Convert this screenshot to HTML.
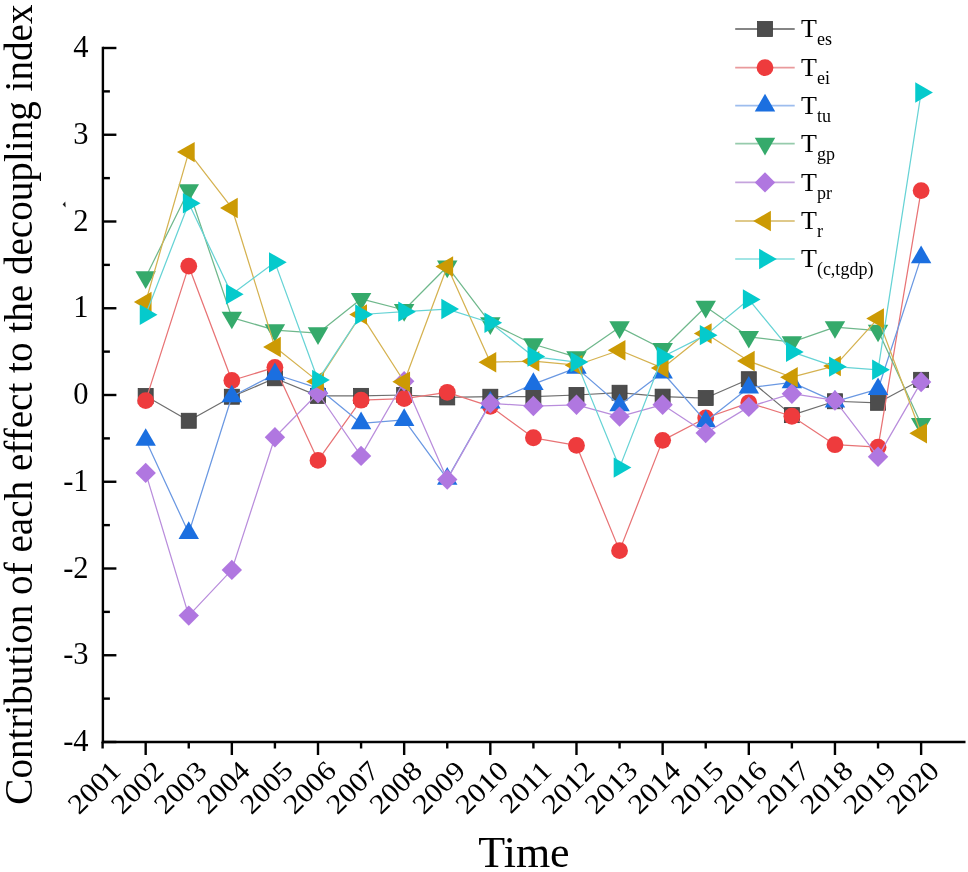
<!DOCTYPE html>
<html><head><meta charset="utf-8"><title>Chart</title>
<style>
text{filter:grayscale(1);font-family:"Liberation Serif",serif;}
html,body{margin:0;padding:0;background:#fff;width:968px;height:872px;overflow:hidden;font-family:"Liberation Serif",serif;}
</style></head>
<body>
<svg width="968" height="872" viewBox="0 0 968 872" style="display:block">
<rect width="968" height="872" fill="#fff"/>
<g stroke="#000" stroke-width="2.4" fill="none" stroke-linecap="butt">
<line x1="102.9" y1="46.8" x2="102.9" y2="743.2"/>
<line x1="101.7" y1="742.0" x2="965.5" y2="742.0"/>
<line x1="102.9" y1="742.00" x2="116.4" y2="742.00"/>
<line x1="102.9" y1="698.62" x2="109.9" y2="698.62"/>
<line x1="102.9" y1="655.25" x2="116.4" y2="655.25"/>
<line x1="102.9" y1="611.88" x2="109.9" y2="611.88"/>
<line x1="102.9" y1="568.50" x2="116.4" y2="568.50"/>
<line x1="102.9" y1="525.12" x2="109.9" y2="525.12"/>
<line x1="102.9" y1="481.75" x2="116.4" y2="481.75"/>
<line x1="102.9" y1="438.38" x2="109.9" y2="438.38"/>
<line x1="102.9" y1="395.00" x2="116.4" y2="395.00"/>
<line x1="102.9" y1="351.62" x2="109.9" y2="351.62"/>
<line x1="102.9" y1="308.25" x2="116.4" y2="308.25"/>
<line x1="102.9" y1="264.88" x2="109.9" y2="264.88"/>
<line x1="102.9" y1="221.50" x2="116.4" y2="221.50"/>
<line x1="102.9" y1="178.12" x2="109.9" y2="178.12"/>
<line x1="102.9" y1="134.75" x2="116.4" y2="134.75"/>
<line x1="102.9" y1="91.38" x2="109.9" y2="91.38"/>
<line x1="102.9" y1="48.00" x2="116.4" y2="48.00"/>
<line x1="102.60" y1="742.0" x2="102.60" y2="748.5"/>
<line x1="145.68" y1="742.0" x2="145.68" y2="755.0"/>
<line x1="188.76" y1="742.0" x2="188.76" y2="748.5"/>
<line x1="231.84" y1="742.0" x2="231.84" y2="755.0"/>
<line x1="274.92" y1="742.0" x2="274.92" y2="748.5"/>
<line x1="318.00" y1="742.0" x2="318.00" y2="755.0"/>
<line x1="361.08" y1="742.0" x2="361.08" y2="748.5"/>
<line x1="404.16" y1="742.0" x2="404.16" y2="755.0"/>
<line x1="447.24" y1="742.0" x2="447.24" y2="748.5"/>
<line x1="490.32" y1="742.0" x2="490.32" y2="755.0"/>
<line x1="533.40" y1="742.0" x2="533.40" y2="748.5"/>
<line x1="576.48" y1="742.0" x2="576.48" y2="755.0"/>
<line x1="619.56" y1="742.0" x2="619.56" y2="748.5"/>
<line x1="662.64" y1="742.0" x2="662.64" y2="755.0"/>
<line x1="705.72" y1="742.0" x2="705.72" y2="748.5"/>
<line x1="748.80" y1="742.0" x2="748.80" y2="755.0"/>
<line x1="791.88" y1="742.0" x2="791.88" y2="748.5"/>
<line x1="834.96" y1="742.0" x2="834.96" y2="755.0"/>
<line x1="878.04" y1="742.0" x2="878.04" y2="748.5"/>
<line x1="921.12" y1="742.0" x2="921.12" y2="755.0"/>
</g>
<g font-family="Liberation Serif" font-size="30.5" fill="#000" text-anchor="end">
<text x="88.6" y="751.20">-4</text>
<text x="88.6" y="664.45">-3</text>
<text x="88.6" y="577.70">-2</text>
<text x="88.6" y="490.95">-1</text>
<text x="88.6" y="404.20">0</text>
<text x="88.6" y="317.45">1</text>
<text x="88.6" y="230.70">2</text>
<text x="88.6" y="143.95">3</text>
<text x="88.6" y="57.20">4</text>
</g>
<g font-family="Liberation Serif" font-size="28.8" fill="#000" text-anchor="end">
<text transform="translate(116.10,766.2) rotate(-45) scale(1.06,0.97)" x="0" y="9">2001</text>
<text transform="translate(159.18,766.2) rotate(-45) scale(1.06,0.97)" x="0" y="9">2002</text>
<text transform="translate(202.26,766.2) rotate(-45) scale(1.06,0.97)" x="0" y="9">2003</text>
<text transform="translate(245.34,766.2) rotate(-45) scale(1.06,0.97)" x="0" y="9">2004</text>
<text transform="translate(288.42,766.2) rotate(-45) scale(1.06,0.97)" x="0" y="9">2005</text>
<text transform="translate(331.50,766.2) rotate(-45) scale(1.06,0.97)" x="0" y="9">2006</text>
<text transform="translate(374.58,766.2) rotate(-45) scale(1.06,0.97)" x="0" y="9">2007</text>
<text transform="translate(417.66,766.2) rotate(-45) scale(1.06,0.97)" x="0" y="9">2008</text>
<text transform="translate(460.74,766.2) rotate(-45) scale(1.06,0.97)" x="0" y="9">2009</text>
<text transform="translate(503.82,766.2) rotate(-45) scale(1.06,0.97)" x="0" y="9">2010</text>
<text transform="translate(546.90,766.2) rotate(-45) scale(1.06,0.97)" x="0" y="9">2011</text>
<text transform="translate(589.98,766.2) rotate(-45) scale(1.06,0.97)" x="0" y="9">2012</text>
<text transform="translate(633.06,766.2) rotate(-45) scale(1.06,0.97)" x="0" y="9">2013</text>
<text transform="translate(676.14,766.2) rotate(-45) scale(1.06,0.97)" x="0" y="9">2014</text>
<text transform="translate(719.22,766.2) rotate(-45) scale(1.06,0.97)" x="0" y="9">2015</text>
<text transform="translate(762.30,766.2) rotate(-45) scale(1.06,0.97)" x="0" y="9">2016</text>
<text transform="translate(805.38,766.2) rotate(-45) scale(1.06,0.97)" x="0" y="9">2017</text>
<text transform="translate(848.46,766.2) rotate(-45) scale(1.06,0.97)" x="0" y="9">2018</text>
<text transform="translate(891.54,766.2) rotate(-45) scale(1.06,0.97)" x="0" y="9">2019</text>
<text transform="translate(934.62,766.2) rotate(-45) scale(1.06,0.97)" x="0" y="9">2020</text>
</g>
<text font-family="Liberation Serif" font-size="44" x="524" y="867" text-anchor="middle" fill="#000">Time</text>
<text font-family="Liberation Serif" font-size="40" transform="translate(32.0,404.6) rotate(-90) scale(0.9787,1.02)" text-anchor="middle" fill="#000">Contribution of each effect to the decoupling index</text>
<polygon points="62.6,204.6 65.3,201.4 65.7,207.4" fill="#1a1a1a"/>
<polyline points="145.68,396.04 188.76,420.76 231.84,396.74 274.92,378.26 318.00,395.87 361.08,395.87 404.16,395.00 447.24,397.43 490.32,396.74 533.40,396.74 576.48,395.00 619.56,392.74 662.64,396.65 705.72,398.04 748.80,379.21 791.88,415.13 834.96,401.25 878.04,402.81 921.12,379.82" fill="none" stroke="#6e6e6e" stroke-width="1.25" stroke-linejoin="round"/>
<rect x="138.18" y="388.54" width="15.00" height="15.00" fill="#4d4d4d" stroke="#3c3c3c" stroke-width="0.8"/>
<rect x="181.26" y="413.26" width="15.00" height="15.00" fill="#4d4d4d" stroke="#3c3c3c" stroke-width="0.8"/>
<rect x="224.34" y="389.24" width="15.00" height="15.00" fill="#4d4d4d" stroke="#3c3c3c" stroke-width="0.8"/>
<rect x="267.42" y="370.76" width="15.00" height="15.00" fill="#4d4d4d" stroke="#3c3c3c" stroke-width="0.8"/>
<rect x="310.50" y="388.37" width="15.00" height="15.00" fill="#4d4d4d" stroke="#3c3c3c" stroke-width="0.8"/>
<rect x="353.58" y="388.37" width="15.00" height="15.00" fill="#4d4d4d" stroke="#3c3c3c" stroke-width="0.8"/>
<rect x="396.66" y="387.50" width="15.00" height="15.00" fill="#4d4d4d" stroke="#3c3c3c" stroke-width="0.8"/>
<rect x="439.74" y="389.93" width="15.00" height="15.00" fill="#4d4d4d" stroke="#3c3c3c" stroke-width="0.8"/>
<rect x="482.82" y="389.24" width="15.00" height="15.00" fill="#4d4d4d" stroke="#3c3c3c" stroke-width="0.8"/>
<rect x="525.90" y="389.24" width="15.00" height="15.00" fill="#4d4d4d" stroke="#3c3c3c" stroke-width="0.8"/>
<rect x="568.98" y="387.50" width="15.00" height="15.00" fill="#4d4d4d" stroke="#3c3c3c" stroke-width="0.8"/>
<rect x="612.06" y="385.24" width="15.00" height="15.00" fill="#4d4d4d" stroke="#3c3c3c" stroke-width="0.8"/>
<rect x="655.14" y="389.15" width="15.00" height="15.00" fill="#4d4d4d" stroke="#3c3c3c" stroke-width="0.8"/>
<rect x="698.22" y="390.54" width="15.00" height="15.00" fill="#4d4d4d" stroke="#3c3c3c" stroke-width="0.8"/>
<rect x="741.30" y="371.71" width="15.00" height="15.00" fill="#4d4d4d" stroke="#3c3c3c" stroke-width="0.8"/>
<rect x="784.38" y="407.63" width="15.00" height="15.00" fill="#4d4d4d" stroke="#3c3c3c" stroke-width="0.8"/>
<rect x="827.46" y="393.75" width="15.00" height="15.00" fill="#4d4d4d" stroke="#3c3c3c" stroke-width="0.8"/>
<rect x="870.54" y="395.31" width="15.00" height="15.00" fill="#4d4d4d" stroke="#3c3c3c" stroke-width="0.8"/>
<rect x="913.62" y="372.32" width="15.00" height="15.00" fill="#4d4d4d" stroke="#3c3c3c" stroke-width="0.8"/>
<polyline points="145.68,400.64 188.76,266.18 231.84,380.51 274.92,367.33 318.00,460.41 361.08,400.20 404.16,398.56 447.24,392.31 490.32,406.36 533.40,437.77 576.48,445.40 619.56,550.63 662.64,440.37 705.72,417.99 748.80,402.81 791.88,416.25 834.96,444.71 878.04,447.22 921.12,190.62" fill="none" stroke="#e87375" stroke-width="1.25" stroke-linejoin="round"/>
<circle cx="145.68" cy="400.64" r="8.4" fill="#ee3b3d"/>
<circle cx="188.76" cy="266.18" r="8.4" fill="#ee3b3d"/>
<circle cx="231.84" cy="380.51" r="8.4" fill="#ee3b3d"/>
<circle cx="274.92" cy="367.33" r="8.4" fill="#ee3b3d"/>
<circle cx="318.00" cy="460.41" r="8.4" fill="#ee3b3d"/>
<circle cx="361.08" cy="400.20" r="8.4" fill="#ee3b3d"/>
<circle cx="404.16" cy="398.56" r="8.4" fill="#ee3b3d"/>
<circle cx="447.24" cy="392.31" r="8.4" fill="#ee3b3d"/>
<circle cx="490.32" cy="406.36" r="8.4" fill="#ee3b3d"/>
<circle cx="533.40" cy="437.77" r="8.4" fill="#ee3b3d"/>
<circle cx="576.48" cy="445.40" r="8.4" fill="#ee3b3d"/>
<circle cx="619.56" cy="550.63" r="8.4" fill="#ee3b3d"/>
<circle cx="662.64" cy="440.37" r="8.4" fill="#ee3b3d"/>
<circle cx="705.72" cy="417.99" r="8.4" fill="#ee3b3d"/>
<circle cx="748.80" cy="402.81" r="8.4" fill="#ee3b3d"/>
<circle cx="791.88" cy="416.25" r="8.4" fill="#ee3b3d"/>
<circle cx="834.96" cy="444.71" r="8.4" fill="#ee3b3d"/>
<circle cx="878.04" cy="447.22" r="8.4" fill="#ee3b3d"/>
<circle cx="921.12" cy="190.62" r="8.4" fill="#ee3b3d"/>
<polyline points="145.68,439.94 188.76,533.11 231.84,396.47 274.92,374.27 318.00,388.06 361.08,423.28 404.16,419.98 447.24,478.89 490.32,402.72 533.40,384.16 576.48,367.85 619.56,405.32 662.64,372.53 705.72,421.46 748.80,387.71 791.88,382.42 834.96,401.68 878.04,389.19 921.12,257.33" fill="none" stroke="#6a98e2" stroke-width="1.25" stroke-linejoin="round"/>
<polygon points="145.68,428.14 155.90,445.84 135.46,445.84" fill="#1b6fe0"/>
<polygon points="188.76,521.31 198.98,539.01 178.54,539.01" fill="#1b6fe0"/>
<polygon points="231.84,384.67 242.06,402.37 221.62,402.37" fill="#1b6fe0"/>
<polygon points="274.92,362.47 285.14,380.17 264.70,380.17" fill="#1b6fe0"/>
<polygon points="318.00,376.26 328.22,393.96 307.78,393.96" fill="#1b6fe0"/>
<polygon points="361.08,411.48 371.30,429.18 350.86,429.18" fill="#1b6fe0"/>
<polygon points="404.16,408.18 414.38,425.88 393.94,425.88" fill="#1b6fe0"/>
<polygon points="447.24,467.09 457.46,484.79 437.02,484.79" fill="#1b6fe0"/>
<polygon points="490.32,390.92 500.54,408.62 480.10,408.62" fill="#1b6fe0"/>
<polygon points="533.40,372.36 543.62,390.06 523.18,390.06" fill="#1b6fe0"/>
<polygon points="576.48,356.05 586.70,373.75 566.26,373.75" fill="#1b6fe0"/>
<polygon points="619.56,393.52 629.78,411.22 609.34,411.22" fill="#1b6fe0"/>
<polygon points="662.64,360.73 672.86,378.43 652.42,378.43" fill="#1b6fe0"/>
<polygon points="705.72,409.66 715.94,427.36 695.50,427.36" fill="#1b6fe0"/>
<polygon points="748.80,375.91 759.02,393.61 738.58,393.61" fill="#1b6fe0"/>
<polygon points="791.88,370.62 802.10,388.32 781.66,388.32" fill="#1b6fe0"/>
<polygon points="834.96,389.88 845.18,407.58 824.74,407.58" fill="#1b6fe0"/>
<polygon points="878.04,377.39 888.26,395.09 867.82,395.09" fill="#1b6fe0"/>
<polygon points="921.12,245.53 931.34,263.23 910.90,263.23" fill="#1b6fe0"/>
<polyline points="145.68,277.19 188.76,190.27 231.84,317.53 274.92,330.11 318.00,333.23 361.08,298.97 404.16,309.99 447.24,266.44 490.32,323.17 533.40,344.25 576.48,357.09 619.56,327.16 662.64,348.94 705.72,306.69 748.80,336.79 791.88,342.08 834.96,327.07 878.04,330.54 921.12,423.89" fill="none" stroke="#6fb88c" stroke-width="1.25" stroke-linejoin="round"/>
<polygon points="145.68,288.99 155.90,271.29 135.46,271.29" fill="#35aa6b"/>
<polygon points="188.76,202.07 198.98,184.37 178.54,184.37" fill="#35aa6b"/>
<polygon points="231.84,329.33 242.06,311.63 221.62,311.63" fill="#35aa6b"/>
<polygon points="274.92,341.91 285.14,324.21 264.70,324.21" fill="#35aa6b"/>
<polygon points="318.00,345.03 328.22,327.33 307.78,327.33" fill="#35aa6b"/>
<polygon points="361.08,310.77 371.30,293.07 350.86,293.07" fill="#35aa6b"/>
<polygon points="404.16,321.79 414.38,304.09 393.94,304.09" fill="#35aa6b"/>
<polygon points="447.24,278.24 457.46,260.54 437.02,260.54" fill="#35aa6b"/>
<polygon points="490.32,334.97 500.54,317.27 480.10,317.27" fill="#35aa6b"/>
<polygon points="533.40,356.05 543.62,338.35 523.18,338.35" fill="#35aa6b"/>
<polygon points="576.48,368.89 586.70,351.19 566.26,351.19" fill="#35aa6b"/>
<polygon points="619.56,338.96 629.78,321.26 609.34,321.26" fill="#35aa6b"/>
<polygon points="662.64,360.74 672.86,343.04 652.42,343.04" fill="#35aa6b"/>
<polygon points="705.72,318.49 715.94,300.79 695.50,300.79" fill="#35aa6b"/>
<polygon points="748.80,348.59 759.02,330.89 738.58,330.89" fill="#35aa6b"/>
<polygon points="791.88,353.88 802.10,336.18 781.66,336.18" fill="#35aa6b"/>
<polygon points="834.96,338.87 845.18,321.17 824.74,321.17" fill="#35aa6b"/>
<polygon points="878.04,342.34 888.26,324.64 867.82,324.64" fill="#35aa6b"/>
<polygon points="921.12,435.69 931.34,417.99 910.90,417.99" fill="#35aa6b"/>
<polyline points="145.68,472.90 188.76,615.61 231.84,569.89 274.92,437.25 318.00,393.26 361.08,455.90 404.16,381.21 447.24,479.49 490.32,403.33 533.40,406.02 576.48,404.80 619.56,416.60 662.64,404.72 705.72,433.08 748.80,406.88 791.88,393.70 834.96,400.47 878.04,456.68 921.12,382.07" fill="none" stroke="#b98ddc" stroke-width="1.25" stroke-linejoin="round"/>
<polygon points="145.68,462.70 155.88,472.90 145.68,483.10 135.48,472.90" fill="#b077e0"/>
<polygon points="188.76,605.41 198.96,615.61 188.76,625.81 178.56,615.61" fill="#b077e0"/>
<polygon points="231.84,559.69 242.04,569.89 231.84,580.09 221.64,569.89" fill="#b077e0"/>
<polygon points="274.92,427.05 285.12,437.25 274.92,447.45 264.72,437.25" fill="#b077e0"/>
<polygon points="318.00,383.06 328.20,393.26 318.00,403.46 307.80,393.26" fill="#b077e0"/>
<polygon points="361.08,445.70 371.28,455.90 361.08,466.10 350.88,455.90" fill="#b077e0"/>
<polygon points="404.16,371.01 414.36,381.21 404.16,391.41 393.96,381.21" fill="#b077e0"/>
<polygon points="447.24,469.29 457.44,479.49 447.24,489.69 437.04,479.49" fill="#b077e0"/>
<polygon points="490.32,393.13 500.52,403.33 490.32,413.53 480.12,403.33" fill="#b077e0"/>
<polygon points="533.40,395.82 543.60,406.02 533.40,416.22 523.20,406.02" fill="#b077e0"/>
<polygon points="576.48,394.60 586.68,404.80 576.48,415.00 566.28,404.80" fill="#b077e0"/>
<polygon points="619.56,406.40 629.76,416.60 619.56,426.80 609.36,416.60" fill="#b077e0"/>
<polygon points="662.64,394.52 672.84,404.72 662.64,414.92 652.44,404.72" fill="#b077e0"/>
<polygon points="705.72,422.88 715.92,433.08 705.72,443.28 695.52,433.08" fill="#b077e0"/>
<polygon points="748.80,396.68 759.00,406.88 748.80,417.08 738.60,406.88" fill="#b077e0"/>
<polygon points="791.88,383.50 802.08,393.70 791.88,403.90 781.68,393.70" fill="#b077e0"/>
<polygon points="834.96,390.27 845.16,400.47 834.96,410.67 824.76,400.47" fill="#b077e0"/>
<polygon points="878.04,446.48 888.24,456.68 878.04,466.88 867.84,456.68" fill="#b077e0"/>
<polygon points="921.12,371.87 931.32,382.07 921.12,392.27 910.92,382.07" fill="#b077e0"/>
<polyline points="145.68,302.00 188.76,152.10 231.84,207.97 274.92,347.03 318.00,381.38 361.08,314.58 404.16,381.73 447.24,266.52 490.32,362.21 533.40,361.17 576.48,365.24 619.56,350.24 662.64,368.11 705.72,333.41 748.80,361.08 791.88,377.22 834.96,365.94 878.04,318.40 921.12,433.34" fill="none" stroke="#d5b250" stroke-width="1.25" stroke-linejoin="round"/>
<polygon points="133.88,302.00 151.58,291.78 151.58,312.22" fill="#cc9a04"/>
<polygon points="176.96,152.10 194.66,141.88 194.66,162.32" fill="#cc9a04"/>
<polygon points="220.04,207.97 237.74,197.75 237.74,218.19" fill="#cc9a04"/>
<polygon points="263.12,347.03 280.82,336.81 280.82,357.25" fill="#cc9a04"/>
<polygon points="306.20,381.38 323.90,371.16 323.90,391.60" fill="#cc9a04"/>
<polygon points="349.28,314.58 366.98,304.36 366.98,324.80" fill="#cc9a04"/>
<polygon points="392.36,381.73 410.06,371.51 410.06,391.95" fill="#cc9a04"/>
<polygon points="435.44,266.52 453.14,256.30 453.14,276.74" fill="#cc9a04"/>
<polygon points="478.52,362.21 496.22,351.99 496.22,372.43" fill="#cc9a04"/>
<polygon points="521.60,361.17 539.30,350.95 539.30,371.39" fill="#cc9a04"/>
<polygon points="564.68,365.24 582.38,355.03 582.38,375.46" fill="#cc9a04"/>
<polygon points="607.76,350.24 625.46,340.02 625.46,360.46" fill="#cc9a04"/>
<polygon points="650.84,368.11 668.54,357.89 668.54,378.33" fill="#cc9a04"/>
<polygon points="693.92,333.41 711.62,323.19 711.62,343.63" fill="#cc9a04"/>
<polygon points="737.00,361.08 754.70,350.86 754.70,371.30" fill="#cc9a04"/>
<polygon points="780.08,377.22 797.78,367.00 797.78,387.44" fill="#cc9a04"/>
<polygon points="823.16,365.94 840.86,355.72 840.86,376.16" fill="#cc9a04"/>
<polygon points="866.24,318.40 883.94,308.18 883.94,328.62" fill="#cc9a04"/>
<polygon points="909.32,433.34 927.02,423.12 927.02,443.56" fill="#cc9a04"/>
<polyline points="145.68,314.67 188.76,203.28 231.84,294.20 274.92,262.36 318.00,379.91 361.08,314.50 404.16,311.63 447.24,309.03 490.32,322.74 533.40,356.57 576.48,362.12 619.56,467.61 662.64,356.74 705.72,335.14 748.80,299.40 791.88,351.89 834.96,366.63 878.04,369.84 921.12,92.50" fill="none" stroke="#66d3d5" stroke-width="1.25" stroke-linejoin="round"/>
<polygon points="157.48,314.67 139.78,304.45 139.78,324.89" fill="#05cacc"/>
<polygon points="200.56,203.28 182.86,193.06 182.86,213.50" fill="#05cacc"/>
<polygon points="243.64,294.20 225.94,283.98 225.94,304.42" fill="#05cacc"/>
<polygon points="286.72,262.36 269.02,252.14 269.02,272.58" fill="#05cacc"/>
<polygon points="329.80,379.91 312.10,369.69 312.10,390.12" fill="#05cacc"/>
<polygon points="372.88,314.50 355.18,304.28 355.18,324.72" fill="#05cacc"/>
<polygon points="415.96,311.63 398.26,301.41 398.26,321.85" fill="#05cacc"/>
<polygon points="459.04,309.03 441.34,298.81 441.34,319.25" fill="#05cacc"/>
<polygon points="502.12,322.74 484.42,312.52 484.42,332.96" fill="#05cacc"/>
<polygon points="545.20,356.57 527.50,346.35 527.50,366.79" fill="#05cacc"/>
<polygon points="588.28,362.12 570.58,351.90 570.58,372.34" fill="#05cacc"/>
<polygon points="631.36,467.61 613.66,457.39 613.66,477.83" fill="#05cacc"/>
<polygon points="674.44,356.74 656.74,346.52 656.74,366.96" fill="#05cacc"/>
<polygon points="717.52,335.14 699.82,324.92 699.82,345.36" fill="#05cacc"/>
<polygon points="760.60,299.40 742.90,289.18 742.90,309.62" fill="#05cacc"/>
<polygon points="803.68,351.89 785.98,341.67 785.98,362.10" fill="#05cacc"/>
<polygon points="846.76,366.63 829.06,356.41 829.06,376.85" fill="#05cacc"/>
<polygon points="889.84,369.84 872.14,359.62 872.14,380.06" fill="#05cacc"/>
<polygon points="932.92,92.50 915.22,82.28 915.22,102.72" fill="#05cacc"/>
<line x1="735.2" y1="29.0" x2="794.7" y2="29.0" stroke="#858585" stroke-width="1.9"/>
<rect x="757.50" y="21.50" width="15.00" height="15.00" fill="#4d4d4d" stroke="#3c3c3c" stroke-width="0.8"/>
<text font-family="Liberation Serif" font-size="26" x="801" y="37.3" fill="#000">T<tspan font-size="18" dy="8">es</tspan></text>
<line x1="735.2" y1="67.6" x2="794.7" y2="67.6" stroke="#e99a9c" stroke-width="1.9"/>
<circle cx="765.00" cy="67.60" r="8.4" fill="#ee3b3d"/>
<text font-family="Liberation Serif" font-size="26" x="801" y="75.9" fill="#000">T<tspan font-size="18" dy="8">ei</tspan></text>
<line x1="735.2" y1="105.6" x2="794.7" y2="105.6" stroke="#9dbdee" stroke-width="1.9"/>
<polygon points="765.00,93.80 775.22,111.50 754.78,111.50" fill="#1b6fe0"/>
<text font-family="Liberation Serif" font-size="26" x="801" y="113.9" fill="#000">T<tspan font-size="18" dy="8">tu</tspan></text>
<line x1="735.2" y1="143.6" x2="794.7" y2="143.6" stroke="#96cbac" stroke-width="1.9"/>
<polygon points="765.00,155.40 775.22,137.70 754.78,137.70" fill="#35aa6b"/>
<text font-family="Liberation Serif" font-size="26" x="801" y="151.9" fill="#000">T<tspan font-size="18" dy="8">gp</tspan></text>
<line x1="735.2" y1="182.4" x2="794.7" y2="182.4" stroke="#c5a4dd" stroke-width="1.9"/>
<polygon points="765.00,172.20 775.20,182.40 765.00,192.60 754.80,182.40" fill="#b077e0"/>
<text font-family="Liberation Serif" font-size="26" x="801" y="190.7" fill="#000">T<tspan font-size="18" dy="8">pr</tspan></text>
<line x1="735.2" y1="221.0" x2="794.7" y2="221.0" stroke="#dfc98a" stroke-width="1.9"/>
<polygon points="753.20,221.00 770.90,210.78 770.90,231.22" fill="#cc9a04"/>
<text font-family="Liberation Serif" font-size="26" x="801" y="229.3" fill="#000">T<tspan font-size="18" dy="8">r</tspan></text>
<line x1="735.2" y1="259.0" x2="794.7" y2="259.0" stroke="#a2e5e5" stroke-width="1.9"/>
<polygon points="776.80,259.00 759.10,248.78 759.10,269.22" fill="#05cacc"/>
<text font-family="Liberation Serif" font-size="26" x="801" y="267.3" fill="#000">T<tspan font-size="18" dy="8">(c,tgdp)</tspan></text>
</svg>
</body></html>
